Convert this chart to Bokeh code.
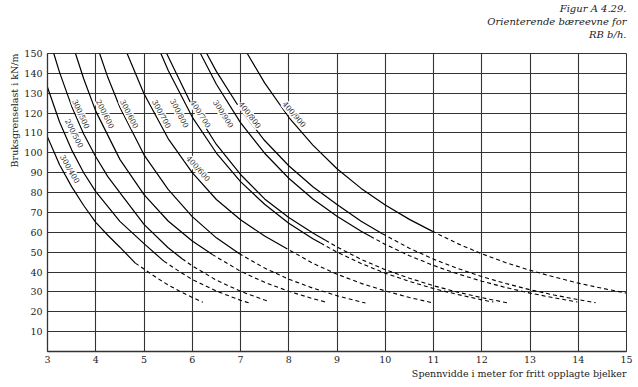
import math
import numpy as np
from bokeh.plotting import figure
from bokeh.models import Label, Range1d, FixedTicker, Title
from bokeh.embed import file_html
from bokeh.resources import INLINE

# ---------------- data ----------------
x_ticks = list(range(3, 16))
y_ticks = list(range(10, 151, 10))

# curve 1 : 300/400
s1x = [3.0, 3.25, 3.5, 3.75, 4.0, 4.25, 4.5, 4.82]
s1y = [108, 94, 83, 73.5, 65, 58.5, 52.5, 44.5]
d1x = [4.82, 5.0, 5.25, 5.5, 5.75, 6.0, 6.22]
d1y = [44.5, 41.5, 37.3, 33.5, 30.2, 27.2, 24.8]
# curve 2 : 200/500
s2x = [3.0, 3.25, 3.5, 3.75, 4.0, 4.5, 5.0, 5.41]
s2y = [133, 115.5, 101.5, 90, 80.5, 65.5, 54.3, 45.5]
d2x = [5.41, 5.75, 6.0, 6.5, 7.0, 7.17]
d2y = [45.5, 40, 36.3, 30.4, 25.8, 24.5]
# curve 3 : 300/500
s3x = [3.13, 3.25, 3.5, 3.75, 4.0, 4.25, 4.5, 5.0, 5.5, 5.79]
s3y = [150, 140.5, 123.5, 109.5, 98, 88, 80, 64, 52.2, 46.7]
d3x = [5.79, 6.0, 6.5, 7.0, 7.5, 7.59]
d3y = [46.7, 43.1, 35.9, 30.3, 25.9, 25.2]
# curve 4 : 200/600
s4x = [3.58, 3.75, 4.0, 4.5, 5.0, 5.5, 6.0, 6.41]
s4y = [150, 137.3, 121, 96.7, 79, 65.7, 55.6, 48.9]
d4x = [6.41, 7.0, 7.5, 8.0, 8.5, 8.76]
d4y = [48.9, 40.4, 34.8, 30.3, 26.6, 24.9]
# curve 5 : 300/600
s5x = [4.08, 4.25, 4.5, 5.0, 5.5, 6.0, 6.5, 6.97]
s5y = [150, 138, 122.9, 99, 81.6, 67.9, 57.2, 49.3]
d5x = [6.97, 7.5, 8.0, 8.5, 9.0, 9.59]
d5y = [49.3, 42, 36.4, 31.9, 28.1, 24.4]
# curve 6 : 300/700 and 400/600
s6x = [4.65, 5.0, 5.5, 6.0, 6.5, 7.0, 7.5, 7.9]
s6y = [150, 129.7, 107.2, 90, 76.5, 66.3, 58.1, 52.6]
d6x = [7.9, 8.5, 9.0, 9.5, 10.0, 10.5, 11.0]
d6y = [52.6, 44.4, 38.9, 34.3, 30.5, 27.2, 24.4]
# curve 7 : 300/800
s7x = [5.35, 5.5, 6.0, 6.5, 7.0, 7.5, 8.0, 8.5, 8.66]
s7y = [150, 141.6, 118, 99.9, 85.5, 74.1, 64.6, 56.8, 54.6]
d7x = [8.66, 9.0, 9.5, 10.0, 10.5, 11.0, 11.5, 12.0, 12.24]
d7y = [54.6, 50, 44.3, 39.4, 35.3, 31.7, 28.7, 26.0, 24.9]
# curve 8 : 400/700
s8x = [5.47, 6.0, 6.5, 7.0, 7.5, 8.0, 8.5, 8.76]
s8y = [150, 123.4, 104.2, 89.1, 76.8, 67.5, 59.6, 56]
d8x = [8.76, 9.0, 9.5, 10.0, 10.5, 11.0, 11.5, 12.0, 12.53]
d8y = [56, 52.6, 46.4, 41.2, 36.9, 33.1, 29.9, 27.1, 24.5]
# curve 9 : 300/900
s9x = [6.17, 6.5, 7.0, 7.5, 8.0, 8.5, 9.0, 9.5, 9.69]
s9y = [150, 134.5, 115.2, 99.8, 87.2, 76.8, 68.1, 60.5, 58]
d9x = [9.69, 10.0, 10.5, 11.0, 11.5, 12.0, 12.5, 13.0, 13.5, 13.98]
d9y = [58, 53.9, 48.2, 43.3, 39.1, 35.4, 32.2, 29.4, 27.0, 24.9]
# curve 10 : 400/800
s10x = [6.3, 6.5, 7.0, 7.5, 8.0, 8.5, 9.0, 9.5, 9.94]
s10y = [150, 141, 121.8, 106.2, 93.5, 82.9, 74, 65.6, 59.3]
d10x = [9.94, 10.5, 11.0, 11.5, 12.0, 12.5, 13.0, 13.5, 14.0, 14.36]
d10y = [59.3, 52, 46.5, 41.8, 37.7, 34.2, 31.1, 28.4, 26.1, 24.5]
# curve 11 : 400/900
s11x = [7.14, 7.5, 8.0, 8.5, 9.0, 9.5, 10.0, 10.5, 10.97]
s11y = [150, 135.2, 117.9, 103.9, 92, 82.1, 73.7, 66.5, 60.6]
d11x = [10.97, 11.5, 12.0, 12.5, 13.0, 13.5, 14.0, 14.5, 15.0]
d11y = [60.6, 54.3, 49.2, 44.7, 40.9, 37.5, 34.4, 31.8, 29.4]

label_text = ["300/400", "200/500", "300/500", "200/600", "300/600", "300/700",
              "300/800", "400/700", "300/900", "400/800", "400/900", "400/600"]
label_curve = [1, 2, 3, 4, 5, 6, 7, 8, 9, 10, 11, 6]
label_x = [3.46, 3.55, 3.69, 4.19, 4.69, 5.36, 5.73, 6.17, 6.64, 7.19, 8.11, 6.12]
label_y = [91.8, 109.7, 119.5, 119.5, 119.5, 119.5, 119.8, 119.5, 119.5, 119.0, 119.3, 92.0]

title_lines = ["Figur A 4.29.", "Orienterende bæreevne for", "RB b/h."]
y_title = "Bruksgrenselast i kN/m"
x_title = "Spennvidde i meter for fritt opplagte bjelker"

solids = [(s1x, s1y), (s2x, s2y), (s3x, s3y), (s4x, s4y), (s5x, s5y), (s6x, s6y),
          (s7x, s7y), (s8x, s8y), (s9x, s9y), (s10x, s10y), (s11x, s11y)]
dashes = [(d1x, d1y), (d2x, d2y), (d3x, d3y), (d4x, d4y), (d5x, d5y), (d6x, d6y),
          (d7x, d7y), (d8x, d8y), (d9x, d9y), (d10x, d10y), (d11x, d11y)]

# ---------------- figure ----------------
W, H = 638, 387
FL, FR, FT, FB = 47, 12, 53, 36
p = figure(width=W, height=H, x_range=Range1d(3, 15), y_range=Range1d(0, 150),
           output_backend="svg", toolbar_location=None, title=None,
           min_border_left=FL, min_border_right=FR, min_border_top=FT, min_border_bottom=FB)
p.background_fill_color = "white"
p.border_fill_color = "white"
p.outline_line_color = "#333333"
p.outline_line_width = 1

GRID = "#333333"
FONT = "DejaVu Serif"
TXT = "#222222"

p.xaxis.ticker = FixedTicker(ticks=x_ticks)
p.yaxis.ticker = FixedTicker(ticks=y_ticks)
p.xgrid.ticker = FixedTicker(ticks=x_ticks)
p.ygrid.ticker = FixedTicker(ticks=y_ticks)
for g in (p.xgrid, p.ygrid):
    g.grid_line_color = GRID
    g.grid_line_width = 1.1
    g.grid_line_alpha = 1
for ax in (p.xaxis, p.yaxis):
    ax.axis_line_color = GRID
    ax.axis_line_width = 1.3
    ax.major_tick_in = 0
    ax.major_tick_out = 0
    ax.minor_tick_in = 0
    ax.minor_tick_out = 0
    ax.major_label_text_font = FONT
    ax.major_label_text_font_size = "9.5px"
    ax.major_label_text_color = TXT
p.xaxis.major_label_standoff = 4
p.yaxis.major_label_standoff = 5

for (sx_, sy_), (dx_, dy_) in zip(solids, dashes):
    p.line(sx_, sy_, line_color="black", line_width=1.2)
    p.line(dx_, dy_, line_color="black", line_width=1.1, line_dash="4 3")

# labels rotated along their curves
px_per_x = (W - FL - FR) / 12.0
px_per_y = (H - FT - FB) / 150.0
for txt, ci, lx, ly in zip(label_text, label_curve, label_x, label_y):
    cx = np.array(solids[ci - 1][0] + dashes[ci - 1][0][1:])
    cy = np.array(solids[ci - 1][1] + dashes[ci - 1][1][1:])
    slope = (np.interp(lx + 0.1, cx, cy) - np.interp(lx - 0.1, cx, cy)) / 0.2
    ang = math.atan(slope * px_per_y / px_per_x)
    p.add_layout(Label(x=lx, y=ly, text=txt, angle=ang, text_align="center",
                       text_baseline="middle", text_font=FONT, text_font_size="7.5px",
                       text_color=TXT, background_fill_color="white"))

# title block top right: a blank spacer next to the plot, then the lines outward
p.add_layout(Title(text=" ", align="right", text_font=FONT, text_font_size="10px",
                   text_font_style="normal", standoff=1), "above")
for t in reversed(title_lines):
    p.add_layout(Title(text=t, align="right", text_font=FONT, text_font_size="10px",
                       text_font_style="italic", text_color=TXT, standoff=0), "above")

p.add_layout(Title(text=y_title, align="right", text_font=FONT, text_font_size="9.5px",
                   text_font_style="normal", text_color=TXT, standoff=4), "left")
p.add_layout(Title(text=x_title, align="right", text_font=FONT, text_font_size="9.5px",
                   text_font_style="normal", text_color=TXT, standoff=1), "below")

open("out.html", "w").write(file_html(p, INLINE))
